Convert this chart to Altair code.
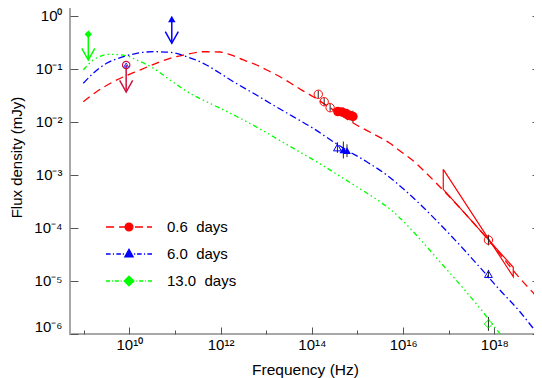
import altair as alt
import pandas as pd

# ---------------- data (log10 values) ----------------
SERIES = ["0.6 days", "6.0 days", "13.0 days"]
LABELS = ["0.6\u00a0 days", "6.0\u00a0 days", "13.0\u00a0 days"]
COLORS = ["#ff0000", "#0000ff", "#00ff00"]

# model curves: log10(frequency / Hz), log10(flux / mJy)
red_lognu = [8.99, 9.28, 9.65, 10.23, 10.60, 10.89, 11.18, 11.62, 11.99, 12.21, 12.50, 12.79,
             13.01, 13.30, 13.52, 13.78, 14.03, 14.50, 14.98, 15.27, 15.71, 16.00, 16.22, 16.50,
             17.20, 17.87, 18.56, 18.93, 19.05]
red_logf = [-1.62, -1.43, -1.24, -1.02, -0.89, -0.80, -0.74, -0.675, -0.68, -0.73, -0.83, -0.925,
            -1.02, -1.146, -1.26, -1.40, -1.523, -1.79, -2.058, -2.19, -2.403, -2.59, -2.73, -2.96,
            -3.58, -4.227, -4.95, -5.30, -5.42]

blue_lognu = [8.99, 9.21, 9.50, 9.87, 10.16, 10.53, 10.89, 11.26, 11.62, 11.99, 12.28, 12.72,
              13.15, 13.59, 14.03, 14.47, 14.76, 15.20, 15.64, 16.08, 16.37, 16.81, 17.25, 17.68,
              18.12, 18.56, 18.85, 19.05]
blue_logf = [-1.27, -1.08, -0.893, -0.769, -0.705, -0.674, -0.686, -0.769, -0.893, -1.082, -1.24,
             -1.459, -1.68, -1.90, -2.12, -2.373, -2.529, -2.75, -3.00, -3.32, -3.55, -3.93, -4.33,
             -4.74, -5.17, -5.58, -5.89, -6.10]

green_lognu = [8.99, 9.21, 9.58, 9.87, 10.16, 10.53, 10.89, 11.33, 11.77, 12.20, 12.90, 13.30,
               13.70, 14.20, 14.70, 15.13, 15.50, 15.75, 16.08, 16.37, 16.81, 17.25, 17.68,
               18.12, 18.25]
green_logf = [-1.02, -0.831, -0.724, -0.737, -0.831, -0.988, -1.208, -1.459, -1.65, -1.83,
              -2.15, -2.35, -2.55, -2.80, -3.07, -3.30, -3.51, -3.67, -3.94, -4.21, -4.64, -5.07,
              -5.51, -5.99, -6.12]

# detections: open markers
red_open_lognu = [14.14, 14.27, 14.40, 17.87]
red_open_logf = [-1.478, -1.618, -1.731, -4.227]
red_open_err = [0.07, 0.07, 0.07, 0.10]
red_fill_lognu = [14.57, 14.66, 14.75, 14.835, 14.90]
red_fill_logf = [-1.803, -1.812, -1.841, -1.878, -1.897]
red_fill_err = [0.07, 0.07, 0.08, 0.09, 0.11]

blue_open_lognu = [14.56, 17.87]
blue_open_logf = [-2.482, -4.87]
blue_open_err = [0.10, 0.08]
blue_fill_lognu = [14.69, 14.77]
blue_fill_logf = [-2.529, -2.542]
blue_fill_err = [0.16, 0.12]

green_open_lognu = [17.87]
green_open_logf = [-5.81]
green_open_err = [0.13]

# radio upper limits: frequency, limit, arrow tip
lim_lognu = [9.93, 10.93, 9.10]
lim_logf = [-0.925, -0.057, -0.346]
lim_tip_logf = [-1.435, -0.516, -0.831]
lim_colors = ["#d0103c", "#0000ff", "#00ff00"]

# X-ray spectral bow-tie (0.6 days)
bow_lognu = [16.88, 18.414, 18.414, 16.88, 16.88]
bow_logf = [-2.893, -4.920, -4.742, -3.271, -2.893]

# axes
X_TICK_EXP = list(range(9, 20))
X_LABEL_EXP = [10, 12, 14, 16, 18]
X_LABELS = ["10¹⁰", "10¹²", "10¹⁴", "10¹⁶", "10¹⁸"]
Y_TICK_EXP = [0, -1, -2, -3, -4, -5, -6]
Y_LABELS = ["10⁰", "10⁻¹", "10⁻²", "10⁻³", "10⁻⁴", "10⁻⁵", "10⁻⁶"]
X_DOMAIN = [5e8, 1e19]
Y_DOMAIN = [1e-6, 2.0]


def lin(v):
    return [10 ** a for a in v]


# ---------------- scales and axes ----------------
xs = alt.Scale(type="log", domain=X_DOMAIN, nice=False)
ys = alt.Scale(type="log", domain=Y_DOMAIN, nice=False)

EXP = "round(log(datum.value)/LN10)"


def label_expr(exps, labels):
    s = "''"
    for e, lab in zip(reversed(exps), reversed(labels)):
        s = f"({EXP} == {e}) ? '{lab}' : ({s})"
    return s


x_tick_size = alt.ExprRef(f"({EXP} % 2 == 0) ? -7 : -4")
FONT = "Liberation Sans"

x_bottom = alt.Axis(orient="bottom", values=lin(X_TICK_EXP), labelExpr=label_expr(X_LABEL_EXP, X_LABELS),
                    tickSize=x_tick_size, labelPadding=10, labelFontSize=15, labelFlush=False,
                    title="Frequency (Hz)", titleFontSize=15.5, titleY=40, titleBaseline="alphabetic",
                    titleFontWeight="normal")
x_top = alt.Axis(orient="top", values=lin(X_TICK_EXP), tickSize=x_tick_size, labels=False, title=None)
y_left = alt.Axis(orient="left", values=lin(Y_TICK_EXP), labelExpr=label_expr(Y_TICK_EXP, Y_LABELS),
                  tickSize=alt.ExprRef("-8"), labelPadding=16, labelFontSize=15, labelFlush=True,
                  title="Flux density (mJy)", titleFontSize=15, titleX=-46, titleY=157,
                  titleFontWeight="normal")
y_right = alt.Axis(orient="right", values=lin(Y_TICK_EXP), tickSize=alt.ExprRef("-8"), labels=False, title=None)


def X(axis=None):
    return alt.X("nu:Q", scale=xs, axis=axis)


def Y(axis=None):
    return alt.Y("f:Q", scale=ys, axis=axis)


layers = []

# model curves
dashes = [[8, 5], [7, 3, 1.5, 3], [5, 3, 1.5, 3, 1.5, 3, 1.5, 3]]
curves = [(red_lognu, red_logf), (blue_lognu, blue_logf), (green_lognu, green_logf)]
for i, ((ln, lf), c, d) in enumerate(zip(curves, COLORS, dashes)):
    df = pd.DataFrame({"nu": lin(ln), "f": lin(lf)})
    layers.append(
        alt.Chart(df).mark_line(color=c, strokeDash=d, strokeWidth=1.3, interpolate="monotone", clip=True)
        .encode(x=X(x_bottom if i == 0 else None), y=Y(y_left if i == 0 else None))
    )

# bow-tie
bow_df = pd.DataFrame({"nu": lin(bow_lognu), "f": lin(bow_logf), "o": list(range(len(bow_lognu)))})
layers.append(alt.Chart(bow_df).mark_line(color="#ff0000", strokeWidth=1.2)
              .encode(x=X(), y=Y(), order="o:Q"))

# error bars (carry the top and right axes)
err_rows = []
for ln, lf, le in [(red_open_lognu, red_open_logf, red_open_err), (red_fill_lognu, red_fill_logf, red_fill_err),
                   (blue_open_lognu, blue_open_logf, blue_open_err), (blue_fill_lognu, blue_fill_logf, blue_fill_err),
                   (green_open_lognu, green_open_logf, green_open_err)]:
    for a, b, e in zip(ln, lf, le):
        err_rows.append({"nu": 10 ** a, "f": 10 ** (b - e), "f2": 10 ** (b + e)})
err_df = pd.DataFrame(err_rows)
layers.append(alt.Chart(err_df).mark_rule(color="#222222", strokeWidth=1)
              .encode(x=X(x_top), y=Y(y_right), y2="f2:Q"))

# markers
def pts(ln, lf, shape, color, filled, size):
    df = pd.DataFrame({"nu": lin(ln), "f": lin(lf)})
    return alt.Chart(df).mark_point(shape=shape, color=color, filled=filled, size=size, strokeWidth=1,
                                    opacity=1).encode(x=X(), y=Y())

layers.append(pts(red_open_lognu, red_open_logf, "circle", "#ff0000", False, 70))
layers.append(pts(red_fill_lognu, red_fill_logf, "circle", "#ff0000", True, 90))
layers.append(pts(blue_open_lognu, blue_open_logf, "triangle-up", "#0000ff", False, 60))
layers.append(pts(blue_fill_lognu, blue_fill_logf, "triangle-up", "#0000ff", True, 60))
layers.append(pts(green_open_lognu, green_open_logf, "diamond", "#00ff00", False, 70))

# upper limits
V_HEAD = "M-1,-1.8L0,0L1,-1.8"
lim_shapes = ["circle", "triangle-up", "diamond"]
lim_filled = [False, True, True]
for ln, lf, lt, c, shp, fl in zip(lim_lognu, lim_logf, lim_tip_logf, lim_colors, lim_shapes, lim_filled):
    df = pd.DataFrame({"nu": [10 ** ln], "f": [10 ** lf], "t": [10 ** lt]})
    base = alt.Chart(df)
    layers.append(base.mark_rule(color=c, strokeWidth=1.5).encode(x=X(), y=Y(), y2="t:Q"))
    layers.append(base.mark_point(shape=V_HEAD, color=c, filled=False, size=169, strokeWidth=1.5, opacity=1)
                  .encode(x=X(), y=alt.Y("t:Q", scale=ys, axis=None)))
    layers.append(base.mark_point(shape=shp, color=c, filled=fl, size=55, strokeWidth=1.2, opacity=1)
                  .encode(x=X(), y=Y()))
layers.append(pts([lim_lognu[0]], [lim_logf[0]], "triangle-up", "#3030ff", False, 22))

# legend (symbols drawn as line-with-marker paths)
RED_SYM = ("M-1,0H-0.65M-0.43,0H-0.09M0.26,0H0.61M0.78,0H1"
           "M0.17,0A0.17,0.17 0 1,1 -0.17,0A0.17,0.17 0 1,1 0.17,0Z")
BLUE_SYM = ("M-1,0H-0.8M-0.7,0H-0.65M-0.55,0H-0.35M-0.27,0H-0.22"
            "M0.22,0H0.27M0.35,0H0.55M0.65,0H0.7M0.8,0H1M0,-0.2L0.18,0.12L-0.18,0.12Z")
GREEN_SYM = ("M-1,0H-0.82M-0.74,0H-0.70M-0.62,0H-0.44M-0.36,0H-0.32"
             "M0.32,0H0.36M0.44,0H0.62M0.70,0H0.74M0.82,0H1M0,-0.21L0.21,0L0,0.21L-0.21,0Z")
leg_df = pd.DataFrame({"series": LABELS})
leg_kw = dict(orient="none", legendX=35, legendY=219, title=None, labelFontSize=15, labelFont=FONT,
              symbolSize=2116, labelOffset=14, rowPadding=11, padding=0, symbolStrokeWidth=1.3,
              clipHeight=16, symbolOpacity=1)
dom = alt.Scale(domain=LABELS, range=COLORS)
layers.append(
    alt.Chart(leg_df).mark_point(filled=True, opacity=0, size=2116, strokeWidth=1.3).encode(
        fill=alt.Fill("series:N", scale=dom, legend=alt.Legend(**leg_kw)),
        stroke=alt.Stroke("series:N", scale=dom, legend=alt.Legend(**leg_kw)),
        shape=alt.Shape("series:N", scale=alt.Scale(domain=LABELS, range=[RED_SYM, BLUE_SYM, GREEN_SYM]),
                        legend=alt.Legend(**leg_kw)),
    )
)

chart = (
    alt.layer(*layers)
    .resolve_axis(x="independent", y="independent")
    .properties(width=470, height=334, padding={"left": 62, "top": -8, "right": -6, "bottom": 44},
                autosize=alt.AutoSizeParams(type="none"))
    .configure_view(stroke="#a8a8a8", strokeWidth=2)
    .configure_axis(grid=False, domain=False, labelFont=FONT, titleFont=FONT, labelColor="black",
                    titleColor="black", tickColor="#555555", tickWidth=1)
    .configure_legend(labelFont=FONT)
)

chart.save("out.html", embed_options={"renderer": "svg", "actions": False})
